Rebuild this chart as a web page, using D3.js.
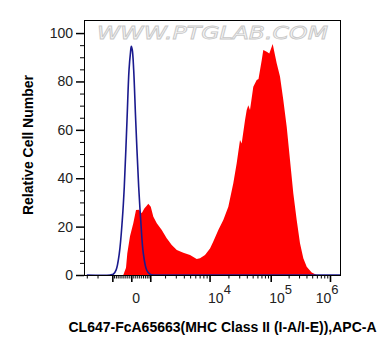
<!DOCTYPE html>
<html><head><meta charset="utf-8">
<script src="https://cdn.jsdelivr.net/npm/d3@7"></script>
<style>
html,body{margin:0;padding:0;background:#fff;}
svg{display:block;font-family:"Liberation Sans",Arial,sans-serif;}
</style></head>
<body><svg id="c" width="388" height="356"></svg>
<script>
// ---- data (fluorescence intensity, relative cell number) ----
const redX = [-3000, -1000, -405, -266, -201, -65, 100, 237, 390, 531, 668, 786, 887, 1029, 1184, 1401, 1747, 2132, 2585, 3112, 3924, 4980, 6309, 7094, 8484, 10164, 11455, 13760, 16542, 19925, 24000, 27260, 30900, 32920, 37330, 39820, 42330, 45150, 51220, 58330, 62480, 70700, 75150, 85650, 94700, 107970, 126000, 143140, 162740, 185660, 211000, 239830, 273700, 311150, 353900, 403800, 490600, 596000, 1500000];
const redY = [0, 0, 0, 3, 9, 16, 21.4, 26.9, 27, 25.5, 27.5, 28.5, 29.5, 28.2, 24.1, 21.4, 18.6, 15.2, 12.4, 10.3, 9.2, 8.3, 6.6, 6.9, 8.3, 11, 13.8, 18.6, 22.7, 28.2, 37.9, 46.2, 55.8, 54.4, 64, 68.2, 70.2, 68.2, 77.8, 80.6, 81, 88.8, 93, 92.3, 91.6, 95.5, 87.5, 82, 72.3, 61.3, 47.5, 33.8, 22.7, 13.1, 6.9, 3.4, 1, 0, 0];
const blueX = [-3000, -1140, -945, -790, -612, -457, -354, -216, -115, -40, 0, 50, 120, 221, 373, 478, 614, 798, 985, 1288, 3000, 1500000];
const blueY = [0, 0, 0.3, 2, 9, 22.7, 36.5, 64, 84.7, 92, 94.5, 93, 84.7, 64, 36.5, 22.7, 9, 2, 0.3, 0, 0, 0];
const yTicks = [0, 20, 40, 60, 80, 100];
const xMajor = [-1000, 0, 1000, 10000, 100000, 1000000];
const xLabels = [{v: 0, base: "0", sup: ""}, {v: 10000, base: "10", sup: "4"}, {v: 100000, base: "10", sup: "5"}, {v: 1000000, base: "10", sup: "6"}];
const xTitle = "CL647-FcA65663(MHC Class II (I-A/I-E)),APC-A";
const yTitle = "Relative Cell Number";
const watermark = "WWW.PTGLAB.COM";

// ---- logicle-style transform ----
const LK = 428.5, LP = 2;
function S(u){ return LK*(Math.pow(10,u) - LP*LP*Math.pow(10,-u/LP) + LP*LP - 1); }
function logicle(v){
  const s = v < 0 ? -1 : 1, a = Math.abs(v);
  let lo = 0, hi = 6;
  for (let i = 0; i < 60; i++){ const m = (lo+hi)/2; if (S(m) < a) lo = m; else hi = m; }
  return s*(lo+hi)/2;
}
const L = 84, R = 340, T = 20, B = 275;
const xs = d3.scaleLinear().domain([-0.8017, 3.5373]).range([L, R]);
const x = v => xs(logicle(v));
const y = d3.scaleLinear().domain([0, 105.4]).range([B, T]);

const svg = d3.select("#c");
const defs = svg.append("defs");
defs.append("clipPath").attr("id","pc").append("rect").attr("x",L).attr("y",T).attr("width",R-L).attr("height",B-T);

// watermark
svg.append("text").attr("x", 97).attr("y", 38.5).attr("textLength", 231).attr("lengthAdjust","spacingAndGlyphs")
  .attr("font-size", 18).attr("fill", "#f7f7f7").attr("stroke", "#c8c8c8").attr("stroke-width", 0.8)
  .attr("font-family", "'DejaVu Sans',sans-serif").attr("font-style","italic").text(watermark);

const g = svg.append("g").attr("clip-path","url(#pc)");
const red = redX.map((v,i)=>[v, redY[i]]);
const blue = blueX.map((v,i)=>[v, blueY[i]]);
g.append("path").datum(red).attr("fill","#ff0000")
  .attr("d", d3.area().x(d=>x(d[0])).y0(y(0)).y1(d=>y(d[1])));
g.append("path").datum(blue).attr("fill","none").attr("stroke","#1a1a8e").attr("stroke-width",1.6)
  .attr("d", d3.line().x(d=>x(d[0])).y(d=>y(d[1])).curve(d3.curveCatmullRom));

// frame
svg.append("rect").attr("x",L).attr("y",T).attr("width",R-L).attr("height",B-T)
  .attr("fill","none").attr("stroke","#000").attr("stroke-width",1).attr("shape-rendering","crispEdges");

// y axis
const yMinor = d3.range(0, 105, 5).filter(v => v % 20 !== 0);
svg.append("g").attr("transform",`translate(${L},0)`)
  .call(d3.axisLeft(y).tickValues(yMinor).tickSize(4).tickFormat(""))
  .call(a=>a.select(".domain").remove());
svg.append("g").attr("transform",`translate(${L},0)`)
  .call(d3.axisLeft(y).tickValues(yTicks).tickSize(8).tickPadding(3).tickFormat(d3.format("d")))
  .call(a=>a.select(".domain").remove())
  .call(a=>a.selectAll("line").attr("stroke-width",1.5))
  .call(a=>a.selectAll("text").attr("font-size",14).attr("fill","#222").attr("font-family","'Liberation Sans',Arial,sans-serif"));

// x axis
const xMinor = [];
[-3000,-2000].forEach(v=>xMinor.push(v));
for (let k=1;k<=9;k++){ xMinor.push(-100*k); xMinor.push(100*k); }
[1000,10000,100000].forEach(d=>{ for(let k=2;k<=9;k++) xMinor.push(d*k); });
const xAxisScale = d3.scaleLinear().domain([L,R]).range([L,R]);
svg.append("g").attr("transform",`translate(0,${B})`)
  .call(d3.axisBottom(xAxisScale).tickValues(xMinor.map(x)).tickSize(3.5).tickFormat(""))
  .call(a=>a.select(".domain").remove());
svg.append("g").attr("transform",`translate(0,${B})`)
  .call(d3.axisBottom(xAxisScale).tickValues(xMajor.map(x)).tickSize(7).tickFormat(""))
  .call(a=>a.select(".domain").remove())
  .call(a=>a.selectAll("line").attr("stroke-width",1.6));

const lab = svg.append("g").attr("font-size",14).attr("fill","#222");
xLabels.forEach(d=>{
  const t = lab.append("text").attr("y", 302.5);
  if (d.v === 1000000) { t.attr("x", 338.5).attr("text-anchor","end"); }
  else { t.attr("x", x(d.v) + (d.sup ? -1.5 : 1)).attr("text-anchor","start"); }
  t.append("tspan").text(d.base);
  if (d.sup) t.append("tspan").attr("dy",-9).attr("font-size",13).text(d.sup);
});

// titles
svg.append("text").attr("x", 222.5).attr("y", 331.5).attr("text-anchor","middle")
  .attr("font-size",14).attr("font-weight","bold").attr("fill","#000").text(xTitle);
svg.append("text").attr("transform","translate(32.5,145) rotate(-90)").attr("text-anchor","middle")
  .attr("font-size",14).attr("font-weight","bold").attr("fill","#000").text(yTitle);
</script></body></html>
